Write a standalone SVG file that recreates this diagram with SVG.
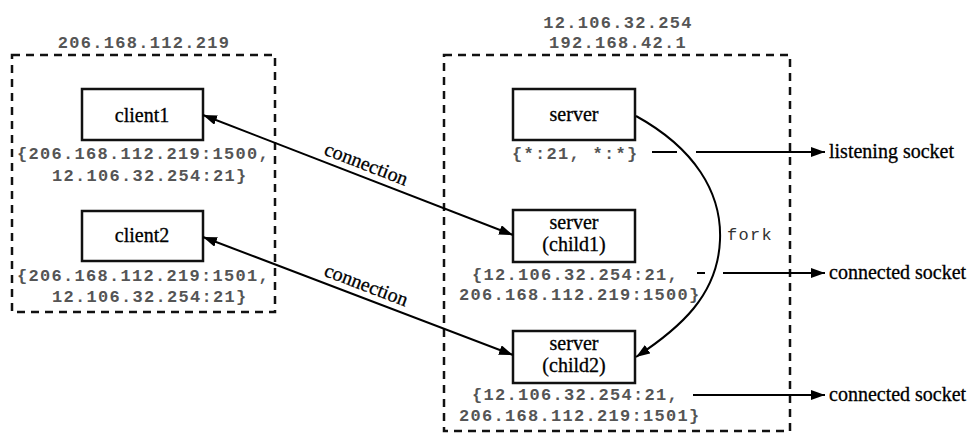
<svg xmlns="http://www.w3.org/2000/svg" width="978" height="433" viewBox="0 0 978 433">
<defs>
<marker id="ah" viewBox="0 0 14 10" refX="14" refY="5" markerWidth="14" markerHeight="10" markerUnits="userSpaceOnUse" orient="auto-start-reverse">
<path d="M0,0 L14,5 L0,10 Z" fill="#000"/>
</marker>
<style>
.host{fill:none;stroke:#111;stroke-width:2.5;stroke-dasharray:8 6}
.box{fill:#fff;stroke:#111;stroke-width:2.5}
.mono{font-family:"Liberation Mono","DejaVu Sans Mono",monospace;font-size:17px;letter-spacing:1.3px;fill:#555;font-weight:bold}
.serif{font-family:"Liberation Serif","Times New Roman",serif;font-size:20px;fill:#000;stroke:#000;stroke-width:0.3}
.mid{text-anchor:middle}
.ln{fill:none;stroke:#000;stroke-width:2}
</style>
</defs>
<rect width="978" height="433" fill="#fff"/>

<g id="hostL">
<rect class="host" x="12" y="55" width="263" height="257"/>
<text class="mono mid" x="144" y="48">206.168.112.219</text>
</g>
<g id="hostR">
<rect class="host" x="444" y="55" width="346" height="376"/>
<text class="mono mid" x="618" y="28">12.106.32.254</text>
<text class="mono mid" x="618" y="48">192.168.42.1</text>
</g>

<g id="client1">
<rect class="box" x="82" y="89" width="121" height="51"/>
<text class="serif mid" x="142" y="122">client1</text>
<text class="mono" x="17" y="159">{206.168.112.219:1500,</text>
<text class="mono" x="52" y="181">12.106.32.254:21}</text>
</g>
<g id="client2">
<rect class="box" x="82" y="211" width="121" height="50"/>
<text class="serif mid" x="142" y="242">client2</text>
<text class="mono" x="17" y="281">{206.168.112.219:1501,</text>
<text class="mono" x="52" y="302">12.106.32.254:21}</text>
</g>
<g id="server">
<rect class="box" x="513" y="89" width="122" height="51"/>
<text class="serif mid" x="574" y="121">server</text>
<text class="mono" x="512" y="159">{*:21, *:*}</text>
</g>
<g id="child1">
<rect class="box" x="513" y="210" width="122" height="52"/>
<text class="serif mid" x="574" y="229">server</text>
<text class="serif mid" x="574" y="251">(child1)</text>
<text class="mono" x="472" y="280">{12.106.32.254:21,</text>
<text class="mono" x="459" y="300">206.168.112.219:1500}</text>
</g>
<g id="child2">
<rect class="box" x="513" y="331" width="122" height="52"/>
<text class="serif mid" x="574" y="350">server</text>
<text class="serif mid" x="574" y="372">(child2)</text>
<text class="mono" x="472" y="400">{12.106.32.254:21,</text>
<text class="mono" x="459" y="421">206.168.112.219:1501}</text>
</g>
<g id="labels">
<text class="serif" x="829" y="158">listening socket</text>
<text class="serif" x="829" y="279">connected socket</text>
<text class="serif" x="829" y="401">connected socket</text>
</g>

<g id="connectors">
<line class="ln" x1="203" y1="115" x2="513" y2="235" marker-start="url(#ah)" marker-end="url(#ah)"/>
<text class="serif" transform="translate(364,170) rotate(21.2)" text-anchor="middle">connection</text>
<line class="ln" x1="203" y1="237" x2="513" y2="355" marker-start="url(#ah)" marker-end="url(#ah)"/>
<text class="serif" transform="translate(364,291) rotate(20.8)" text-anchor="middle">connection</text>
<path class="ln" d="M636,116 C694,148 722,192 720,240 C718,295 680,328 636,357" marker-end="url(#ah)"/>
<text class="mono" x="727" y="240" style="font-weight:normal;fill:#333">fork</text>
<line class="ln" x1="652" y1="152" x2="677" y2="152"/>
<line class="ln" x1="696" y1="152" x2="825" y2="152" marker-end="url(#ah)"/>
<line class="ln" x1="697" y1="273" x2="705" y2="273"/>
<line class="ln" x1="723" y1="273" x2="825" y2="273" marker-end="url(#ah)"/>
<line class="ln" x1="693" y1="395" x2="825" y2="395" marker-end="url(#ah)"/>
</g>
</svg>
